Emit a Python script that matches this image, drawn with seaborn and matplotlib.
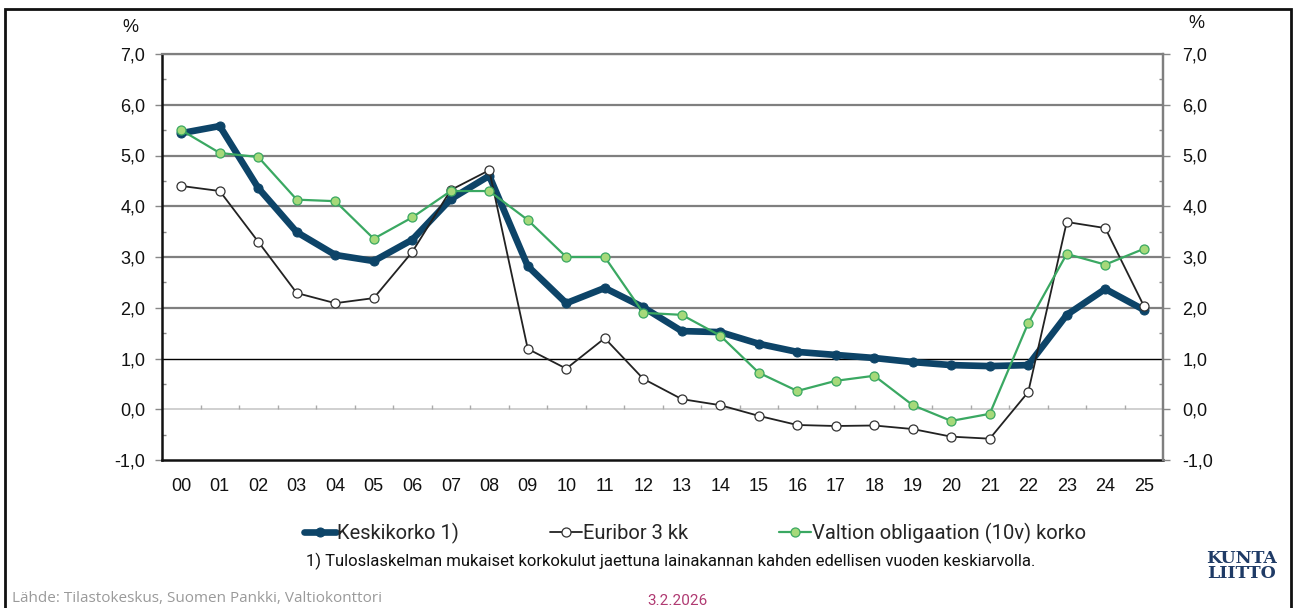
import numpy as np
import pandas as pd
import matplotlib
matplotlib.use("Agg")
import matplotlib.pyplot as plt
import seaborn as sns
from matplotlib.patches import Rectangle

years = ["00", "01", "02", "03", "04", "05", "06", "07", "08", "09", "10", "11", "12",
         "13", "14", "15", "16", "17", "18", "19", "20", "21", "22", "23", "24", "25"]
keskikorko = [5.44, 5.58, 4.36, 3.49, 3.04, 2.92, 3.34, 4.14, 4.60, 2.82, 2.09, 2.39, 2.01,
              1.54, 1.52, 1.29, 1.13, 1.07, 1.01, 0.93, 0.87, 0.85, 0.87, 1.86, 2.37, 1.96]
euribor = [4.40, 4.30, 3.30, 2.29, 2.09, 2.19, 3.10, 4.32, 4.71, 1.19, 0.80, 1.40, 0.60,
           0.20, 0.08, -0.13, -0.31, -0.33, -0.32, -0.39, -0.54, -0.58, 0.34, 3.69, 3.57, 2.04]
valtion = [5.50, 5.05, 4.97, 4.13, 4.10, 3.36, 3.78, 4.30, 4.30, 3.73, 3.00, 3.00, 1.90,
           1.86, 1.45, 0.72, 0.36, 0.56, 0.66, 0.08, -0.23, -0.09, 1.70, 3.06, 2.85, 3.16]
series_labels = ["Keskikorko 1)", "Euribor 3 kk", "Valtion obligaation (10v) korko"]
y_ticks = [-1, 0, 1, 2, 3, 4, 5, 6, 7]

sns.set_style("white")
plt.rcParams['font.family'] = ['Liberation Sans', 'DejaVu Sans']

W, H = 1294, 608
fig = plt.figure(figsize=(W / 100, H / 100), dpi=100)
ax = fig.add_axes([162 / W, 1 - 460 / H, (1163 - 162) / W, (460 - 54) / H])

x = np.arange(len(years))
df = pd.DataFrame({"x": x, "kk": keskikorko, "eur": euribor, "val": valtion})

navy = "#0d4468"
green = "#3aa862"
lgreen = "#a6d97a"

sns.lineplot(data=df, x="x", y="kk", ax=ax, color=navy, lw=4.8, marker="o",
             markersize=6.5, markeredgecolor=navy, markerfacecolor=navy, zorder=3,
             label=series_labels[0])
sns.lineplot(data=df, x="x", y="eur", ax=ax, color="#222222", lw=1.3, marker="o",
             markersize=6.5, markeredgecolor="#333333", markerfacecolor="white",
             markeredgewidth=0.9, zorder=4, label=series_labels[1])
sns.lineplot(data=df, x="x", y="val", ax=ax, color=green, lw=1.6, marker="o",
             markersize=6.5, markeredgecolor=green, markerfacecolor=lgreen,
             markeredgewidth=0.9, zorder=5, label=series_labels[2])

handles, labels = ax.get_legend_handles_labels()
if ax.get_legend() is not None:
    ax.get_legend().remove()

ax.set_xlim(-0.5, len(years) - 0.5)
ax.set_ylim(-1, 7)
ax.set_xticks(x)
ax.set_xticklabels(years)
ax.set_yticks(y_ticks)
ax.set_yticklabels([f"{v:.1f}".replace(".", ",") for v in y_ticks])
ax.set_yticks(np.arange(-0.5, 7, 1.0), minor=True)
ax.set_xlabel("")
ax.set_ylabel("")

ax.tick_params(axis="x", length=0, pad=13, labelsize=13, labelcolor="#111111")
ax.tick_params(axis="y", which="major", length=5, width=1, color="#888888",
               direction="out", pad=7, labelsize=13, labelcolor="#111111", left=True)
ax.tick_params(axis="y", which="minor", length=3, width=1, color="#888888",
               direction="in", left=True)

# gridlines
ax.yaxis.grid(True, which="major", color="#7f7f7f", lw=1.6, zorder=0)
ax.set_axisbelow(True)
mticks = ax.yaxis.get_major_ticks()
for v, t in zip(y_ticks, mticks):
    if v == 0:
        t.gridline.set_color("#c8c8c8")
        t.gridline.set_linewidth(1.2)
    elif v == 1:
        t.gridline.set_color("#000000")
        t.gridline.set_linewidth(1.0)
    elif v == -1:
        t.gridline.set_visible(False)

# category boundary ticks on zero line
ax.vlines(np.arange(0.5, len(years) - 0.5, 1.0), 0, 0.09, color="#aaaaaa", lw=1, zorder=1)

for s in ["left", "bottom"]:
    ax.spines[s].set_color("#111111")
    ax.spines[s].set_linewidth(1.8)
ax.spines["top"].set_color("#7f7f7f")
ax.spines["top"].set_linewidth(1.6)
ax.spines["right"].set_color("#7f7f7f")
ax.spines["right"].set_linewidth(1.6)

ax2 = ax.twinx()
ax2.set_ylim(ax.get_ylim())
ax2.set_yticks(y_ticks)
ax2.set_yticklabels([f"{v:.1f}".replace(".", ",") for v in y_ticks])
ax2.set_yticks(np.arange(-0.5, 7, 1.0), minor=True)
ax2.tick_params(axis="y", which="major", length=5, width=1, color="#888888",
                direction="out", pad=9, labelsize=13, labelcolor="#111111", right=True)
ax2.tick_params(axis="y", which="minor", length=3, width=1, color="#888888",
                direction="in", right=True)
for s in ["left", "bottom", "top"]:
    ax2.spines[s].set_visible(False)
ax2.spines["right"].set_color("#7f7f7f")
ax2.spines["right"].set_linewidth(1.6)
ax2.grid(False)

fig.text(130 / W, 1 - 27 / H, "%", fontsize=13, ha="center", va="center", color="#111111")
fig.text(1196 / W, 1 - 24 / H, "%", fontsize=13, ha="center", va="center", color="#111111")

narrow = ['Roboto', 'DejaVu Sans']
fig.legend(handles, labels, loc="center", bbox_to_anchor=(695 / W, 1 - 533 / H),
           ncol=3, frameon=False, handlelength=1.6, handletextpad=0.05,
           columnspacing=4.5, prop={"family": narrow, "size": 14.5})

fig.text(671 / W, 1 - 561 / H,
         "1) Tuloslaskelman mukaiset korkokulut jaettuna lainakannan kahden edellisen vuoden keskiarvolla.",
         fontsize=12, family=narrow, ha="center", va="center", color="#111111")
fig.text(12 / W, 1 - 599 / H, "Lähde: Tilastokeskus, Suomen Pankki, Valtiokonttori",
         fontsize=11, family=["Open Sans", "DejaVu Sans"], ha="left", va="center", color="#9a9a9a")
fig.text(677 / W, 1 - 601 / H, "3.2.2026", fontsize=11, family=narrow,
         ha="center", va="center", color="#b03a72")
fig.text(1242 / W, 1 - 566 / H, "KUNTA\nLIITTO", fontsize=12.5, family=["DejaVu Serif"],
         fontweight="bold", ha="center", va="center", color="#1f3b66", linespacing=0.78)

fig.patches.append(Rectangle((5 / W, -0.02), (1291 - 5) / W, 1 - 9 / H + 0.02,
                             transform=fig.transFigure, fill=False, lw=2, edgecolor="#111111"))

fig.savefig("out.png", dpi=100)
